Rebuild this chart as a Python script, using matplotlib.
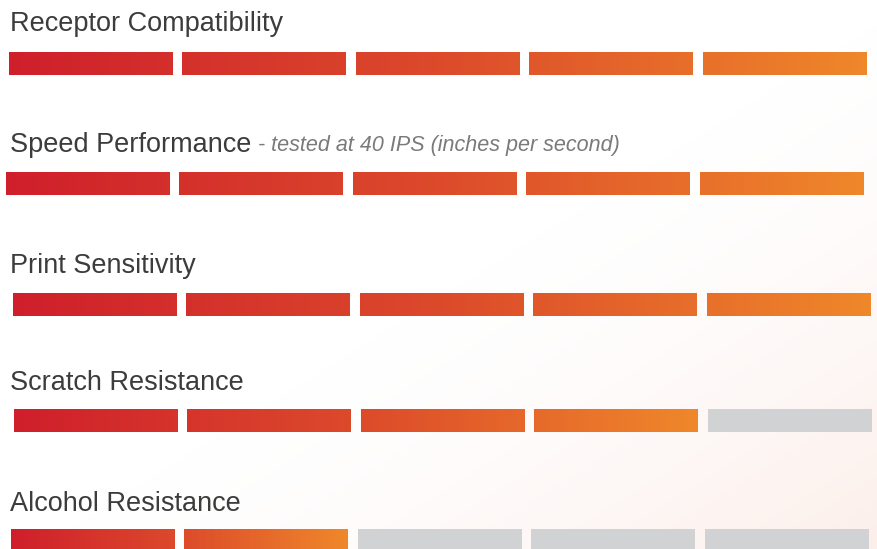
import numpy as np
import matplotlib.pyplot as plt
from matplotlib.colors import LinearSegmentedColormap

# rating rows
titles = ["Receptor Compatibility", "Speed Performance", "Print Sensitivity",
          "Scratch Resistance", "Alcohol Resistance"]
subtitles = ["", "- tested at 40 IPS (inches per second)", "", "", ""]
scores = [5, 5, 5, 4, 2]
max_score = 5

# layout in pixels (figure is 878 x 549)
W, H = 878, 549
title_x = 10
row_x0 = [9, 6, 13, 14, 11]
title_y = [24, 145, 266, 383, 504]
bar_y = [52, 172, 293, 409, 529]
seg_w = 164
seg_step = 173.5
bar_h = 23

grad = LinearSegmentedColormap.from_list("heat", ["#cf1f2c", "#dc4a2b", "#ef872a"])
empty_col = "#d1d2d4"

fig = plt.figure(figsize=(W / 100, H / 100), dpi=100)
ax = fig.add_axes([0, 0, 1, 1])
ax.set_xlim(0, W)
ax.set_ylim(H, 0)
ax.axis("off")

# faint warm wash in the lower right of the background
yy, xx = np.mgrid[0:1:200j, 0:1:300j]
wash = np.clip((xx * 1.0 + yy * 1.0 - 1.0), 0, 1) ** 1.5
bg = np.ones((200, 300, 4))
bg[..., 0] = 0.98
bg[..., 1] = 0.86
bg[..., 2] = 0.82
bg[..., 3] = wash * 0.45
ax.imshow(bg, extent=[0, W, H, 0], aspect="auto", zorder=0)

for r in range(len(titles)):
    t = ax.text(title_x, title_y[r], titles[r], fontsize=19.5, color="#3c3c3c",
                family="Liberation Sans", va="center", ha="left", zorder=3)
    if subtitles[r]:
        fig.canvas.draw()
        bb = t.get_window_extent()
        ax.text(bb.x1 + 7, title_y[r] + 1, subtitles[r], fontsize=15.5, color="#7a7a7a",
                style="italic", family="Liberation Sans", va="center", zorder=3)

    n_fill = scores[r]
    span = (n_fill - 1) * seg_step + seg_w
    for s in range(max_score):
        x0 = row_x0[r] + s * seg_step
        if s < n_fill:
            f0 = (x0 - row_x0[r]) / span
            f1 = (x0 + seg_w - row_x0[r]) / span
            g = np.linspace(f0, f1, 64).reshape(1, -1)
            ax.imshow(g, cmap=grad, vmin=0, vmax=1, aspect="auto",
                      extent=[x0, x0 + seg_w, bar_y[r] + bar_h, bar_y[r]], zorder=2)
        else:
            ax.add_patch(plt.Rectangle((x0, bar_y[r]), seg_w, bar_h,
                                       color=empty_col, lw=0, zorder=2))

ax.set_xlim(0, W)
ax.set_ylim(H, 0)
fig.savefig("out.png", dpi=100)
